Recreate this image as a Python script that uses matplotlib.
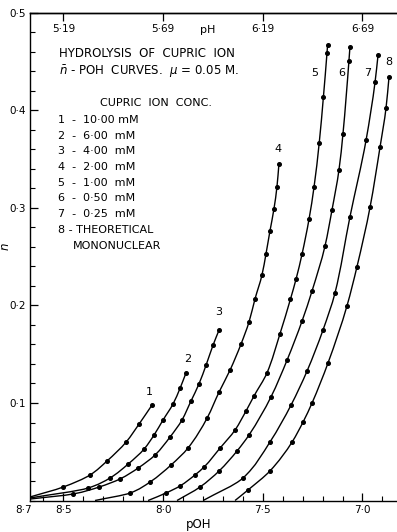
import matplotlib
matplotlib.use('Agg')
import numpy as np
import matplotlib.pyplot as plt
from matplotlib.path import Path
from matplotlib.patches import PathPatch
from matplotlib.ticker import FixedLocator, MultipleLocator

# n-bar against pOH (first point of each = where the line starts, no dot)
poh_1 = [8.667, 8.501, 8.366, 8.281, 8.185, 8.120, 8.055]
n_1 = [0.0036, 0.0138, 0.0262, 0.0405, 0.060, 0.0785, 0.098]

poh_2 = [8.667, 8.376, 8.266, 8.175, 8.095, 8.045, 8.000, 7.950, 7.915, 7.885]
n_2 = [0.0026, 0.0128, 0.0231, 0.0374, 0.0528, 0.0672, 0.0826, 0.099, 0.115, 0.1308]

poh_3 = [8.667, 8.451, 8.321, 8.216, 8.125, 8.040, 7.965, 7.905, 7.860, 7.820, 7.784, 7.749, 7.719]
n_3 = [0.0015, 0.0067, 0.0138, 0.0221, 0.0333, 0.0467, 0.0651, 0.0826, 0.102, 0.1195, 0.139, 0.1595, 0.1749]

poh_4 = [8.341, 8.165, 8.065, 7.960, 7.875, 7.779, 7.719, 7.664, 7.609, 7.569, 7.539,
         7.504, 7.484, 7.464, 7.444, 7.429, 7.419]
n_4 = [0.0, 0.0077, 0.019, 0.0364, 0.0538, 0.0846, 0.1113, 0.1338, 0.1605, 0.1831, 0.2067,
       0.2313, 0.2528, 0.2764, 0.299, 0.3215, 0.3451]

poh_5 = [8.075, 7.985, 7.915, 7.840, 7.794, 7.714, 7.639, 7.584, 7.544, 7.479, 7.414, 7.361,
         7.333, 7.303, 7.268, 7.243, 7.217, 7.196, 7.178, 7.175]
n_5 = [0.0, 0.0077, 0.0149, 0.0262, 0.0344, 0.0538, 0.0723, 0.0918, 0.1072, 0.1308, 0.1708,
       0.2067, 0.2272, 0.2528, 0.2887, 0.3215, 0.3667, 0.4138, 0.459, 0.4672]

poh_6 = [7.930, 7.815, 7.719, 7.629, 7.569, 7.459, 7.378, 7.303, 7.253, 7.188, 7.153, 7.118,
         7.098, 7.068, 7.063]
n_6 = [0.0, 0.0138, 0.0303, 0.0508, 0.0672, 0.1062, 0.1441, 0.1841, 0.2149, 0.261, 0.2979,
       0.339, 0.3759, 0.4508, 0.4651]

poh_7 = [7.799, 7.599, 7.464, 7.358, 7.278, 7.198, 7.138, 7.063, 6.982, 6.937, 6.922]
n_7 = [0.0, 0.0231, 0.060, 0.098, 0.1328, 0.1749, 0.2128, 0.2908, 0.3697, 0.4292, 0.4569]

poh_8 = [7.639, 7.574, 7.464, 7.353, 7.298, 7.253, 7.173, 7.078, 7.028, 6.962, 6.912, 6.882, 6.867]
n_8 = [0.0, 0.0108, 0.0303, 0.060, 0.0805, 0.100, 0.141, 0.1995, 0.2395, 0.301, 0.3626, 0.4026, 0.4344]

curves = [(poh_1, n_1), (poh_2, n_2), (poh_3, n_3), (poh_4, n_4),
          (poh_5, n_5), (poh_6, n_6), (poh_7, n_7), (poh_8, n_8)]

# where the curve numbers sit
label_poh = [8.07, 7.875, 7.72, 7.424, 7.238, 7.103, 6.972, 6.867]
label_n = [0.106, 0.140, 0.188, 0.355, 0.433, 0.433, 0.433, 0.445]

legend_lines = ["1  -  10·00 mM", "2  -  6·00  mM", "3  -  4·00  mM", "4  -  2·00  mM",
                "5  -  1·00  mM", "6  -  0·50  mM", "7  -  0·25  mM", "8 - THEORETICAL"]

poh_ticks = [8.5, 8.0, 7.5, 7.0]
poh_labels = ["8·5", "8·0", "7·5", "7·0"]
n_ticks = [0.1, 0.2, 0.3, 0.4, 0.5]
n_labels = ["0·1", "0·2", "0·3", "0·4", "0·5"]
ph_ticks = [5.19, 5.69, 6.19, 6.69]
ph_labels = ["5·19", "5·69", "6·19", "6·69"]
PKW = 13.69


def smooth_path(xs, ys):
	# french-curve look: monotone hermite joins (x as a function of n) as bezier segments
	x = np.asarray(xs, float)
	y = np.asarray(ys, float)
	h = np.diff(y)
	d = np.diff(x) / h
	m = np.zeros_like(x)
	m[0], m[-1] = d[0], d[-1]
	for k in range(1, len(x) - 1):
		if d[k - 1] * d[k] > 0:
			w1 = 2 * h[k] + h[k - 1]
			w2 = h[k] + 2 * h[k - 1]
			m[k] = (w1 + w2) / (w1 / d[k - 1] + w2 / d[k])
	verts = [(x[0], y[0])]
	codes = [Path.MOVETO]
	for k in range(len(x) - 1):
		verts += [(x[k] + m[k] * h[k] / 3, y[k] + h[k] / 3),
		          (x[k + 1] - m[k + 1] * h[k] / 3, y[k + 1] - h[k] / 3),
		          (x[k + 1], y[k + 1])]
		codes += [Path.CURVE4] * 3
	return Path(verts, codes)


fig = plt.figure(figsize=(3.97, 5.32), dpi=100)
ax = fig.add_axes([0.0756, 0.0592, 0.9244, 0.9164])

for (p, n) in curves:
	ax.add_patch(PathPatch(smooth_path(p, n), fill=False, edgecolor='black', lw=1.0))
	ax.plot(p[1:], n[1:], ls='none', color='black', marker='o', ms=2.6)

for i in range(8):
	ax.text(label_poh[i], label_n[i], str(i + 1), fontsize=8, ha='center', va='bottom')

ax.set_xlim(8.667, 6.827)
ax.set_ylim(0, 0.5)

ax.spines['right'].set_visible(False)
for s in ['left', 'top', 'bottom']:
	ax.spines[s].set_linewidth(1.0)

ax.xaxis.set_major_locator(FixedLocator(poh_ticks))
ax.set_xticklabels(poh_labels)
ax.xaxis.set_minor_locator(MultipleLocator(0.1))
ax.yaxis.set_major_locator(FixedLocator(n_ticks))
ax.set_yticklabels(n_labels)
ax.yaxis.set_minor_locator(MultipleLocator(0.02))
ax.tick_params(which='both', direction='in', top=False, right=False, labelsize=7.5)
ax.tick_params(which='major', length=6, width=0.9)
ax.tick_params(which='minor', length=3.5, width=0.8)
ax.tick_params(axis='y', pad=3)

ax.text(8.70, -0.010, "8·7", fontsize=7.5, ha='center', va='top',
	transform=ax.get_xaxis_transform(), clip_on=False)

sec = ax.secondary_xaxis('top', functions=(lambda p: PKW - p, lambda h: PKW - h))
sec.set_xticks(ph_ticks)
sec.set_xticklabels(ph_labels)
sec.tick_params(direction='in', length=6, width=0.9, pad=-15, labelsize=7.5)
sec.spines['top'].set_linewidth(1.0)
ax.text(0.485, 0.965, "pH", transform=ax.transAxes, fontsize=8, ha='center', va='center')

ax.set_xlabel("pOH", fontsize=8.5)
ax.xaxis.set_label_coords(0.46, -0.036)
ax.set_ylabel(r"$\bar{n}$", fontsize=8.5)
ax.yaxis.set_label_coords(-0.045, 0.52)

ax.text(0.078, 0.916, "HYDROLYSIS  OF  CUPRIC  ION", transform=ax.transAxes, fontsize=8.5, va='center')
ax.text(0.078, 0.879, r"$\bar{n}$ - POH  CURVES.  $\mu$ = 0.05 M.", transform=ax.transAxes, fontsize=8.5, va='center')
ax.text(0.19, 0.815, "CUPRIC  ION  CONC.", transform=ax.transAxes, fontsize=8, va='center')
y0 = 0.7805
for i, line in enumerate(legend_lines):
	ax.text(0.076, y0 - i * 0.0322, line, transform=ax.transAxes, fontsize=8, va='center')
ax.text(0.117, 0.523, "MONONUCLEAR", transform=ax.transAxes, fontsize=8, va='center')

plt.savefig('out.png', dpi=100)
